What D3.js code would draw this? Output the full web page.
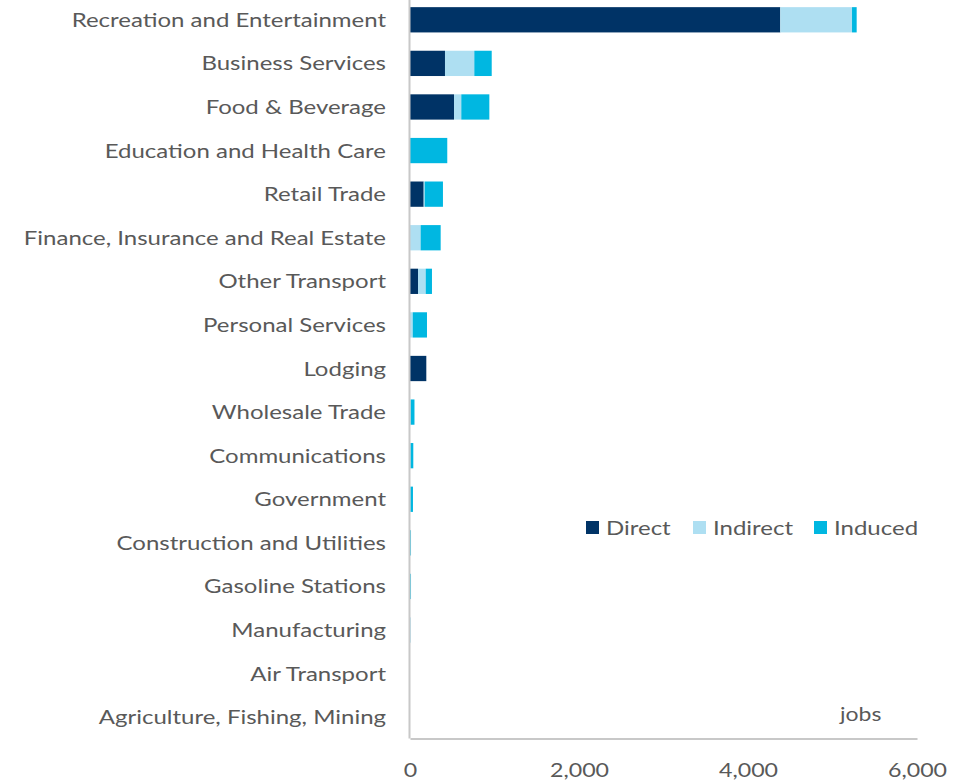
<!DOCTYPE html>
<html>
<head>
<meta charset="utf-8">
<script src="https://cdn.jsdelivr.net/npm/d3@7"></script>
<style>
  html, body { margin: 0; padding: 0; background: #fff; }
  svg { display: block; }
  text { font-family: Lato, "Open Sans", sans-serif; fill: #595959; }
</style>
</head>
<body>
<svg id="chart" width="969" height="782"></svg>
<script>
// Industries, top to bottom
const categories = [
  "Recreation and Entertainment",
  "Business Services",
  "Food & Beverage",
  "Education and Health Care",
  "Retail Trade",
  "Finance, Insurance and Real Estate",
  "Other Transport",
  "Personal Services",
  "Lodging",
  "Wholesale Trade",
  "Communications",
  "Government",
  "Construction and Utilities",
  "Gasoline Stations",
  "Manufacturing",
  "Air Transport",
  "Agriculture, Fishing, Mining"
];

// Jobs by effect type
const direct   = [4382, 414, 521,   0, 162,   0, 95,   0, 193,  0,  0,  0, 0, 0,  0, 0, 0];
const indirect = [ 849, 347,  86,   0,  12, 126, 91,  32,   0,  8,  6,  5, 3, 3, 10, 0, 0];
const induced  = [  55, 206, 332, 441, 216, 237, 74, 169,   0, 45, 33, 30, 9, 9,  0, 0, 0];

const seriesNames = ["Direct", "Indirect", "Induced"];
const xTicks = [0, 2000, 4000, 6000];
const unitLabel = "jobs";

const colors = ["#003366", "#AEDFF2", "#00B7E1"];

// Text is set in a slightly widened face
const FONT = 20;
const WIDE = 1.2;

const svg = d3.select("#chart");

const x = d3.scaleLinear().domain([0, 6000]).range([410, 917]);
const y = d3.scaleBand()
  .domain(categories)
  .range([-2, 739])
  .paddingInner(0.42)
  .paddingOuter(0.21);

const rows = categories.map((c, i) => ({
  name: c, Direct: direct[i], Indirect: indirect[i], Induced: induced[i]
}));
const stacked = d3.stack().keys(seriesNames)(rows);

// Stacked bars
svg.append("g")
  .selectAll("g")
  .data(stacked)
  .join("g")
  .attr("fill", (d, i) => colors[i])
  .selectAll("rect")
  .data(d => d)
  .join("rect")
  .attr("x", d => x(d[0]))
  .attr("y", d => y(d.data.name))
  .attr("width", d => Math.max(0, x(d[1]) - x(d[0])))
  .attr("height", y.bandwidth());

// Category axis line and labels
svg.append("line")
  .attr("x1", 409.5).attr("x2", 409.5)
  .attr("y1", 0).attr("y2", 738.5)
  .attr("stroke", "#C8C8C8").attr("stroke-width", 2);

svg.append("g")
  .selectAll("text")
  .data(categories)
  .join("text")
  .attr("transform", d => `translate(386,${y(d) + y.bandwidth() / 2}) scale(${WIDE},1)`)
  .attr("dy", "0.35em")
  .attr("text-anchor", "end")
  .style("font-size", FONT + "px")
  .text(d => d);

// Value axis
const xAxis = d3.axisBottom(x)
  .tickValues(xTicks)
  .tickSize(0)
  .tickPadding(0)
  .tickFormat(d3.format(","));

const gx = svg.append("g")
  .attr("transform", "translate(0,738.5)")
  .call(xAxis);
gx.select(".domain").attr("stroke", "#C8C8C8").attr("stroke-width", 2);
gx.selectAll(".tick text")
  .attr("y", 0)
  .attr("dy", 0)
  .attr("transform", "translate(0,38) scale(1.16,1)")
  .style("font-size", FONT + "px")
  .style("font-family", "Lato, sans-serif")
  .attr("fill", "#595959");

// Unit label
svg.append("text")
  .attr("transform", "translate(840,721) scale(1.15,1)")
  .style("font-size", FONT + "px")
  .text(unitLabel);

// Legend
const legendX = [586, 693, 814];
const legend = svg.append("g")
  .selectAll("g")
  .data(seriesNames)
  .join("g")
  .attr("transform", (d, i) => `translate(${legendX[i]},521)`);
legend.append("rect")
  .attr("width", 13).attr("height", 13)
  .attr("fill", (d, i) => colors[i]);
legend.append("text")
  .attr("transform", `translate(20,6.5) scale(${WIDE},1)`)
  .attr("dy", "0.35em")
  .style("font-size", FONT + "px")
  .text(d => d);
</script>
</body>
</html>
